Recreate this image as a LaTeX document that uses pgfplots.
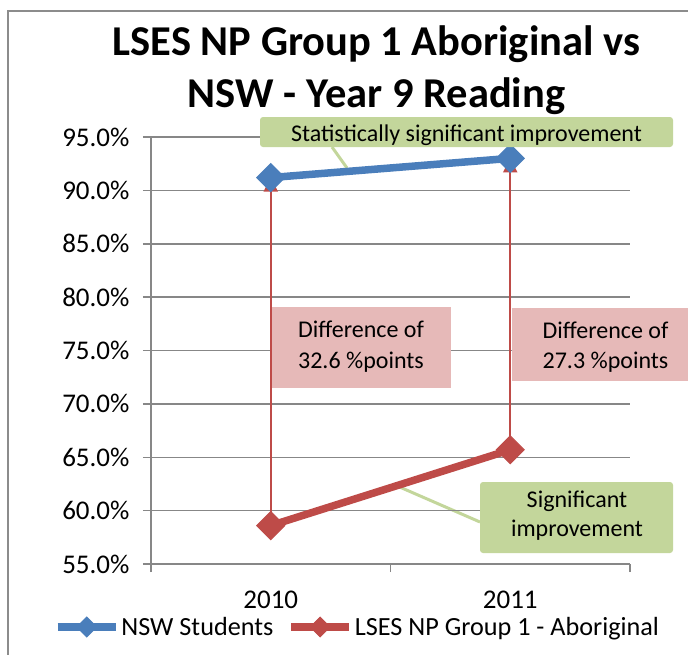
\documentclass[border=0pt]{standalone}
\usepackage{pgfplots}
\pgfplotsset{compat=1.18}
\usepackage{fontspec}
\setmainfont{Carlito}
\usetikzlibrary{arrows.meta}
\definecolor{nswblue}{HTML}{4A7EBB}
\definecolor{lsesred}{HTML}{BE4B48}
\definecolor{boxgreen}{HTML}{C3D69B}
\definecolor{boxpink}{HTML}{E6B9B8}
\definecolor{gridgray}{HTML}{878787}
\definecolor{bordergray}{HTML}{8C8C8C}
\begin{document}
\begin{tikzpicture}
\useasboundingbox (0pt,0pt) rectangle (688pt,-654pt);
\draw[bordergray, line width=1.5pt] (8pt,-660pt) -- (8pt,-11pt) -- (700pt,-11pt);
\node[anchor=base, inner sep=0pt, font=\fontsize{42.5}{50}\selectfont\bfseries] at (376.5pt,-55pt) {LSES NP Group 1 Aboriginal vs};
\node[anchor=base, inner sep=0pt, font=\fontsize{42.5}{50}\selectfont\bfseries] at (376.5pt,-107pt) {NSW - Year 9 Reading};
% connectors
\draw[boxgreen, line width=3pt] (332pt,-147pt) -- (347pt,-168pt);
\draw[boxgreen, line width=3pt] (480pt,-522pt) -- (395pt,-485pt);
\begin{axis}[
  at={(151pt,-564pt)}, anchor=south west,
  scale only axis, width=479pt, height=427pt,
  xmin=-0.5, xmax=1.5, ymin=55, ymax=95,
  axis lines=left, axis line style={-, gridgray, line width=1.5pt},
  xtick={-0.5,0.5,1.5}, xticklabels={},
  extra x ticks={0,1}, extra x tick labels={2010,2011},
  extra x tick style={major tick length=0pt, xticklabel style={yshift=-23pt}},
  ytick={55,60,...,95},
  yticklabel={\pgfmathprintnumber[fixed,fixed zerofill,precision=1]{\tick}\%},
  yticklabel style={xshift=-10pt},
  ymajorgrids, grid style={gridgray, line width=1.5pt},
  tick align=outside, major tick length=8pt,
  tick style={gridgray, line width=1.5pt},
  ticklabel style={font=\fontsize{27}{32}\selectfont},
  /pgf/number format/assume math mode=true,
  legend columns=2,
  legend style={draw=none, fill=none, at={(0.4311,-0.1475)}, anchor=center,
    font=\fontsize{26.2}{32}\selectfont,
    /tikz/every even column/.append style={column sep=12pt}},
  legend image code/.code={
    \draw[#1, mark=none] (0pt,0pt) -- (58pt,0pt);
    \draw[#1, mark size=7pt] plot coordinates {(29pt,0pt)};
  },
  clip=false,
]
\addplot[nswblue, line width=7.5pt, mark=square*, mark size=9.9pt,
  mark options={rotate=45, line width=1pt, solid}] coordinates {(0,91.2) (1,93.0)};
\addlegendentry{NSW Students}
\addplot[lsesred, line width=7.5pt, mark=square*, mark size=9.9pt,
  mark options={rotate=45, line width=1pt, solid}] coordinates {(0,58.6) (1,65.7)};
\addlegendentry{LSES NP Group 1 - Aboriginal}
\addplot[lsesred, line width=2pt, -{Triangle[length=14pt,width=14pt]}, forget plot] coordinates {(0,58.6) (0,91.2)};
\addplot[lsesred, line width=2pt, -{Triangle[length=14pt,width=14pt]}, forget plot] coordinates {(1,65.7) (1,93.0)};
\end{axis}
% boxes
\fill[boxpink] (272pt,-307pt) rectangle (451pt,-388pt);
\node[anchor=base, inner sep=0pt, font=\fontsize{24}{28}\selectfont] at (361pt,-337pt) {Difference of};
\node[anchor=base, inner sep=0pt, font=\fontsize{24}{28}\selectfont] at (361pt,-368pt) {32.6 \%points};
\fill[boxpink] (512pt,-308pt) rectangle (700pt,-381pt);
\node[anchor=base, inner sep=0pt, font=\fontsize{24}{28}\selectfont] at (605.5pt,-338pt) {Difference of};
\node[anchor=base, inner sep=0pt, font=\fontsize{24}{28}\selectfont] at (605.5pt,-368pt) {27.3 \%points};
\fill[boxgreen, rounded corners=3pt] (260pt,-117pt) rectangle (673pt,-147pt);
\node[anchor=base, inner sep=0pt, font=\fontsize{24}{28}\selectfont] at (466.5pt,-141.5pt) {Statistically significant improvement};
\fill[boxgreen, rounded corners=3pt] (480pt,-482pt) rectangle (673pt,-553pt);
\node[anchor=base, inner sep=0pt, font=\fontsize{24}{28}\selectfont] at (577pt,-507pt) {Significant};
\node[anchor=base, inner sep=0pt, font=\fontsize{24}{28}\selectfont] at (577pt,-536pt) {improvement};
\end{tikzpicture}
\end{document}
